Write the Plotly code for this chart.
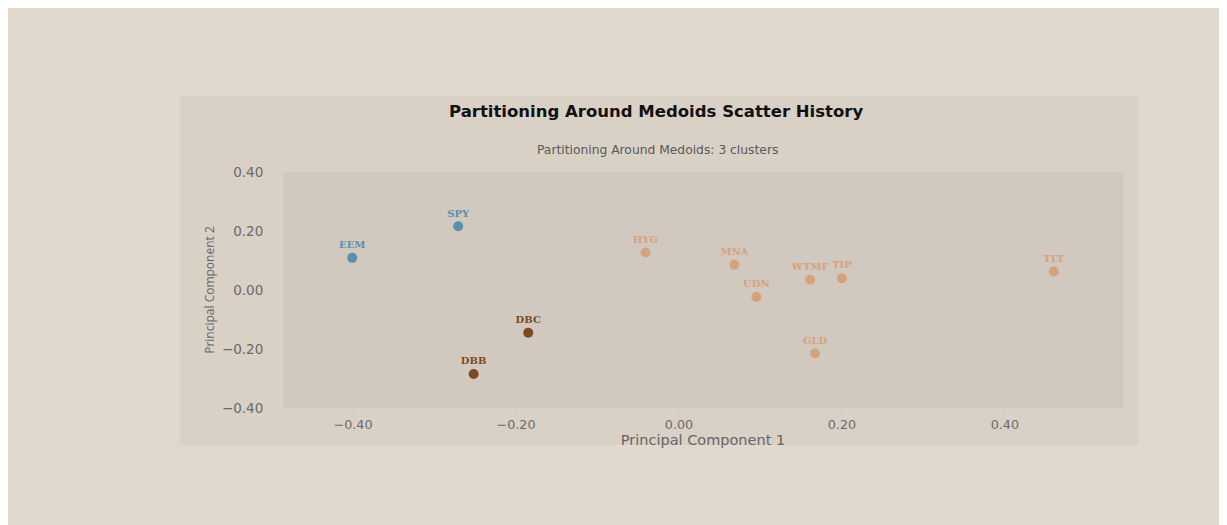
import plotly.graph_objects as go

tickers = ["EEM", "SPY", "DBC", "DBB", "HYG", "MNA", "UDN", "WTMF", "TIP", "TLT", "GLD"]
pc1 = [-0.401, -0.271, -0.185, -0.252, -0.041, 0.068, 0.095, 0.161, 0.200, 0.460, 0.167]
pc2 = [0.109, 0.216, -0.145, -0.285, 0.127, 0.086, -0.024, 0.035, 0.040, 0.063, -0.215]
cluster = [0, 0, 1, 1, 2, 2, 2, 2, 2, 2, 2]
cluster_colors = ["#5a8fae", "#7b4a1f", "#d6a27c"]
x_ticks = [-0.4, -0.2, 0.0, 0.2, 0.4]
y_ticks = [-0.4, -0.2, 0.0, 0.2, 0.4]

fig = go.Figure()
for c in range(3):
    idx = [i for i, k in enumerate(cluster) if k == c]
    fig.add_trace(go.Scatter(
        x=[pc1[i] for i in idx], y=[pc2[i] for i in idx],
        text=[tickers[i] for i in idx],
        mode="markers+text", textposition="top center",
        marker=dict(size=10, color=cluster_colors[c]),
        textfont=dict(family="DejaVu Serif", size=10, color=cluster_colors[c], weight="bold"),
        showlegend=False, hoverinfo="text",
    ))

W, H = 1227, 525
L, R, T, B = 275.3, 112.3, 163.5, 125
pw, ph = W - L - R, H - T - B

def px(x):
    return (x - L) / pw

def py(y):
    return (H - B - y) / ph

# outer chart card
fig.add_shape(type="rect", xref="paper", yref="paper",
              x0=px(172), x1=px(1130), y0=py(437), y1=py(87),
              fillcolor="#d9d0c6", line=dict(width=0), layer="below")
# plot area
fig.add_shape(type="rect", xref="paper", yref="paper",
              x0=0, x1=1, y0=0, y1=1,
              fillcolor="#d1c8bf", line=dict(width=0), layer="below")

fig.add_annotation(text="<b>Partitioning Around Medoids Scatter History</b>",
                   xref="paper", yref="paper", x=px(648), y=py(102.7),
                   showarrow=False, font=dict(family="DejaVu Sans", size=16.5, color="#111111"),
                   xanchor="center", yanchor="middle")
fig.add_annotation(text="Partitioning Around Medoids: 3 clusters",
                   xref="paper", yref="paper", x=px(649.5), y=py(141),
                   showarrow=False, font=dict(family="DejaVu Sans", size=12.3, color="#5a5a5a"),
                   xanchor="center", yanchor="middle")

fig.update_layout(
    width=W, height=H,
    margin=dict(l=L, r=R, t=T, b=B),
    paper_bgcolor="#e1d8ce",
    plot_bgcolor="rgba(0,0,0,0)",
    font=dict(family="DejaVu Sans", color="#666666"),
    xaxis=dict(range=[-0.486, 0.545], tickvals=x_ticks, tickformat=".2f",
               showgrid=False, zeroline=False, showline=False,
               ticks="outside", ticklen=5, tickcolor="#c9c0b6",
               tickfont=dict(family="DejaVu Sans", size=12.7, color="#6a6a6a"),
               title=dict(text="Principal Component 1",
                          font=dict(family="DejaVu Sans", size=14.5, color="#666666"), standoff=0)),
    yaxis=dict(range=[-0.4, 0.4], tickvals=y_ticks, tickformat=".2f",
               showgrid=False, zeroline=False, showline=False,
               ticks="outside", ticklen=16, tickcolor="rgba(0,0,0,0)",
               tickfont=dict(family="DejaVu Sans", size=13.5, color="#6a6a6a"),
               title=dict(text="Principal Component 2",
                          font=dict(family="Open Sans", size=12, color="#666666"), standoff=4)),
)

fig.write_html("out.html")
